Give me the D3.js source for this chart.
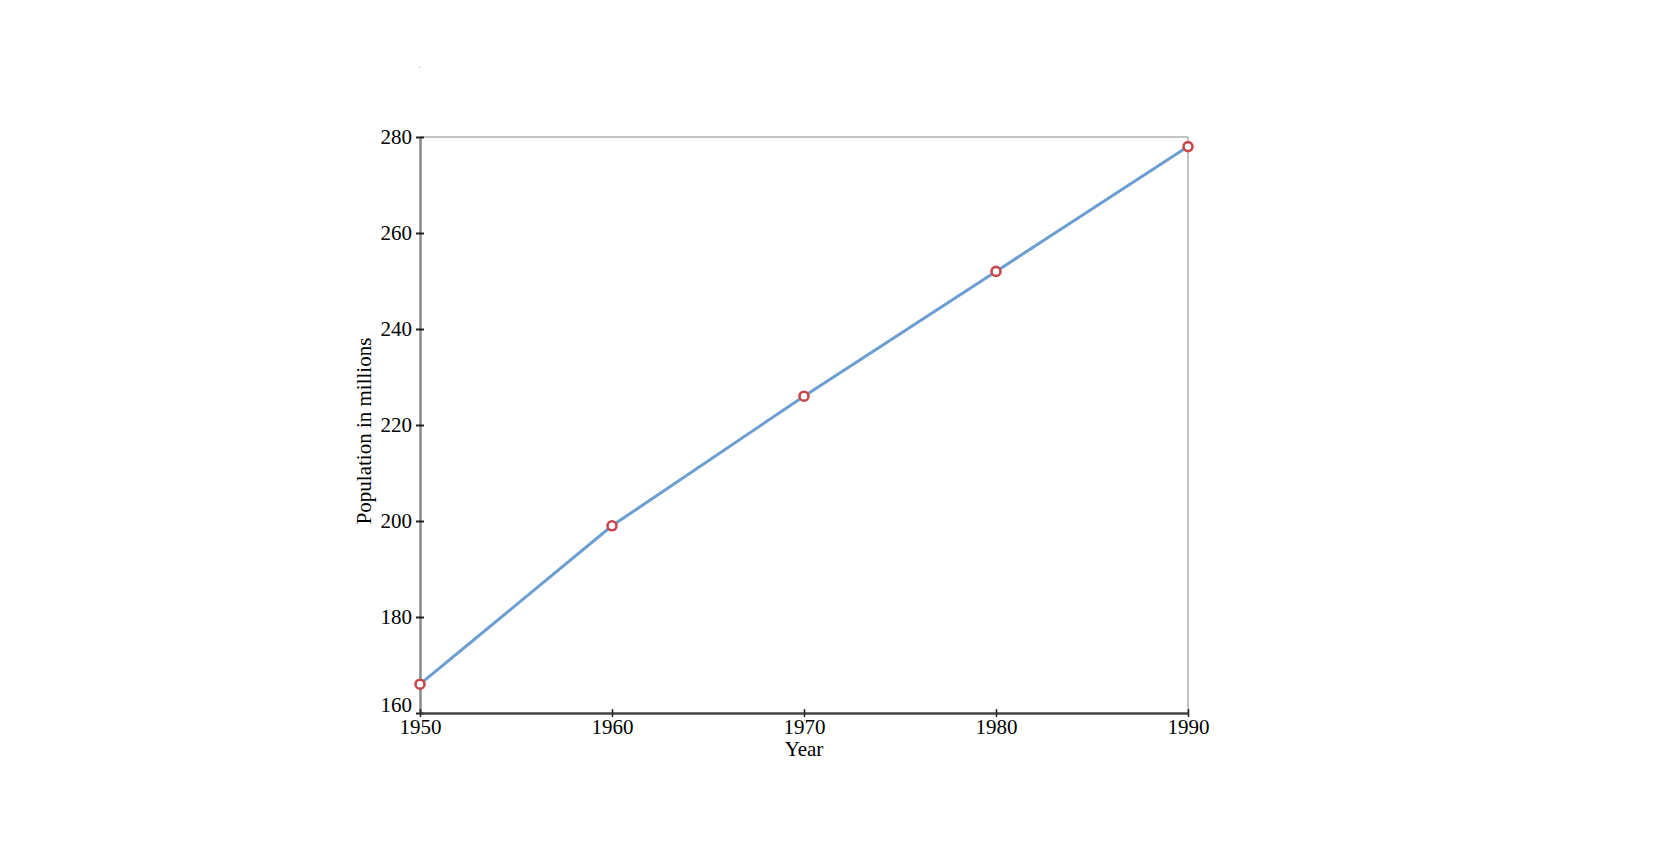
<!DOCTYPE html>
<html>
<head>
<meta charset="utf-8">
<script src="https://cdnjs.cloudflare.com/ajax/libs/d3/7.8.5/d3.min.js"></script>
<style>
  body { margin: 0; background: #fff; }
  svg text { font-family: "Liberation Serif", "DejaVu Serif", serif; fill: #000; }
</style>
</head>
<body>
<svg id="chart"></svg>
<script>
var years = [1950, 1960, 1970, 1980, 1990];
var population = [166, 199, 226, 252, 278];
var yTicks = [160, 180, 200, 220, 240, 260, 280];

var dimensions = {
    width: 1670,
    height: 863,
    margin: { top: 137, left: 420, right: 482, bottom: 150 }
};

var svg = d3.select("#chart")
            .attr("width", dimensions.width)
            .attr("height", dimensions.height)

var xScale = d3.scaleLinear()
                .domain([1950, 1990])
                .range([dimensions.margin.left, dimensions.width - dimensions.margin.right])

var yScale = d3.scaleLinear()
                .domain([160, 280])
                .range([dimensions.height - dimensions.margin.bottom, dimensions.margin.top])

// frame lines on top and right
svg.append("line")
    .attr("x1", xScale(1950)).attr("x2", xScale(1990))
    .attr("y1", yScale(280)).attr("y2", yScale(280))
    .attr("stroke", "#888").attr("stroke-width", 1)
svg.append("line")
    .attr("x1", xScale(1990)).attr("x2", xScale(1990))
    .attr("y1", yScale(280)).attr("y2", yScale(160))
    .attr("stroke", "#888").attr("stroke-width", 1)

var xAxisgen = d3.axisBottom(xScale)
                 .tickValues(years)
                 .tickFormat(d3.format("d"))
                 .tickSize(0)
                 .tickPadding(8)

var yAxisgen = d3.axisLeft(yScale)
                 .tickValues(yTicks)
                 .tickSize(0)
                 .tickPadding(8)

var yAxis = svg.append("g")
    .attr("transform", `translate(${xScale(1950)},0)`)
    .call(yAxisgen)
yAxis.select(".domain").attr("stroke", "#888").attr("stroke-width", 2.5)
yAxis.selectAll(".tick text").style("font-size", "21px")
// the bottom label sits above the axis in the original
yAxis.selectAll(".tick text").filter(function (d) { return d === 160; }).attr("dy", "-0.05em")
yAxis.selectAll(".tick").append("line")
    .attr("x1", -4).attr("x2", 4)
    .attr("stroke", "#222").attr("stroke-width", 2)

var xAxis = svg.append("g")
    .attr("transform", `translate(0,${yScale(160)})`)
    .call(xAxisgen)
xAxis.select(".domain").attr("stroke", "#444").attr("stroke-width", 2.5)
xAxis.selectAll(".tick text").style("font-size", "21px").attr("dy", "0.6em")
xAxis.selectAll(".tick").append("line")
    .attr("y1", -4).attr("y2", 4)
    .attr("stroke", "#222").attr("stroke-width", 1.5)

// axis titles
svg.append("text")
    .attr("x", xScale(1970))
    .attr("y", yScale(160) + 43)
    .attr("text-anchor", "middle")
    .style("font-size", "21px")
    .text("Year")

svg.append("text")
    .attr("transform", `translate(${xScale(1950) - 49},${(yScale(160) + yScale(280)) / 2 + 6}) rotate(-90)`)
    .attr("text-anchor", "middle")
    .style("font-size", "21px")
    .text("Population in millions")

// tiny mark above the chart
svg.append("rect")
    .attr("x", xScale(1950) - 1).attr("y", 67)
    .attr("width", 1).attr("height", 1)
    .attr("fill", "#999")

var line = d3.line()
    .x(function (d, i) { return xScale(years[i]) })
    .y(function (d) { return yScale(d) })

svg.append("path")
    .datum(population)
    .attr("d", line)
    .attr("fill", "none")
    .attr("stroke", "#6b9fd1")
    .attr("stroke-width", 3)

svg.selectAll("circle.pt")
    .data(population)
    .enter()
    .append("circle")
    .classed("pt", true)
    .attr("cx", function (d, i) { return xScale(years[i]) })
    .attr("cy", function (d) { return yScale(d) })
    .attr("r", 4.5)
    .attr("fill", "#fff")
    .attr("stroke", "#c9474b")
    .attr("stroke-width", 2.6)
</script>
</body>
</html>
